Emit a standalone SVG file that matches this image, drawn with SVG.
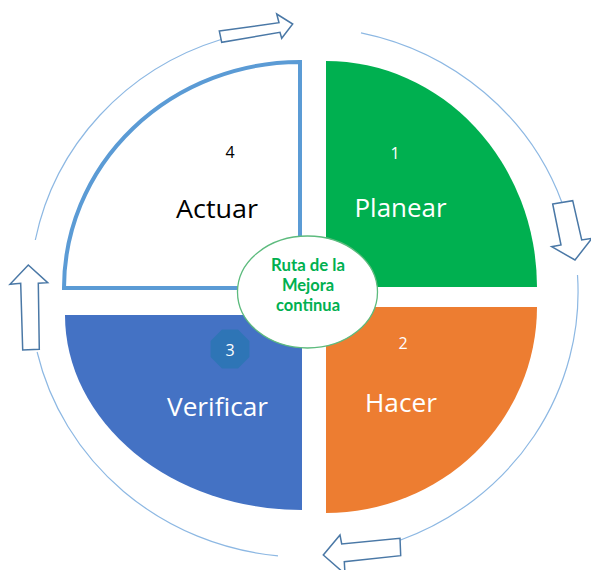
<svg xmlns="http://www.w3.org/2000/svg" width="591" height="570" viewBox="0 0 591 570">
  <style>
    .ring { fill: none; stroke: #8DB8E3; stroke-width: 1.2; }
    .barrow { fill: #FFFFFF; stroke: #4A78A6; stroke-width: 1.5; stroke-linejoin: miter; }
    .big { font-family: "Open Sans", "Noto Sans", sans-serif; font-size: 25px; text-anchor: middle; }
    .num { font-family: "Open Sans", "Noto Sans", sans-serif; font-size: 16px; text-anchor: middle; }
    .light { fill: #FFFFFF; }
    .dark { fill: #000000; }
    .hub { font-family: Lato, "Liberation Sans", sans-serif; font-size: 16.5px; font-weight: bold; fill: #00B050; text-anchor: middle; }
  </style>

  <rect x="0" y="0" width="591" height="570" fill="#FFFFFF"/>

  <!-- outer cycle: ring segments and block arrows -->
  <g id="connectors">
    <path class="ring" d="M35.3,240 A274,265 0 0 1 221,39.5"/>
    <path class="ring" d="M361,32.8 A274,265 0 0 1 562,202.7"/>
    <path class="ring" d="M577.5,275 A274,265 0 0 1 400,540.2"/>
    <path class="ring" d="M278,555.8 A274,265 0 0 1 37.1,352"/>

    <polygon class="barrow" points="219.3,31 279,22.7 276.7,14 292.7,24 281.7,38.3 280,32.3 221.7,42.3"/>
    <polygon class="barrow" points="552.7,204 572.7,200.7 581.7,240 592,238.3 575,260 551.7,246.7 561,245"/>
    <polygon class="barrow" points="400,538.3 400.7,555.7 344.3,561.7 345,574 323.3,555 340,535 341.7,544"/>
    <polygon class="barrow" points="28.3,265 47.7,282.7 38.3,283.3 39.3,349.3 22.7,350 20.7,283.3 10,284.3"/>
  </g>

  <!-- step 4: Actuar -->
  <g id="actuar">
    <path d="M300,62 L300,288 L64,288 A236,226 0 0 1 300,62 Z" fill="#FFFFFF" stroke="#5B9BD5" stroke-width="4"/>
    <text class="num dark" x="230" y="158">4</text>
    <text class="big dark" x="217" y="218" textLength="82" lengthAdjust="spacingAndGlyphs">Actuar</text>
  </g>

  <!-- step 1: Planear -->
  <g id="planear">
    <path d="M326,61 A211,226 0 0 1 537,287 L326,287 Z" fill="#00B050"/>
    <text class="num light" x="395" y="159">1</text>
    <text class="big light" x="400.5" y="217" textLength="92" lengthAdjust="spacingAndGlyphs">Planear</text>
  </g>

  <!-- step 2: Hacer -->
  <g id="hacer">
    <path d="M537,307 A211,206 0 0 1 326,513 L326,307 Z" fill="#ED7D31"/>
    <text class="num light" x="403" y="349">2</text>
    <text class="big light" x="401" y="412" textLength="72" lengthAdjust="spacingAndGlyphs">Hacer</text>
  </g>

  <!-- step 3: Verificar -->
  <g id="verificar">
    <path d="M302,510 A237,195 0 0 1 65,315 L302,315 Z" fill="#4472C4"/>
    <polygon points="238,329.6 249.4,341 249.4,357 238,368.4 222,368.4 210.6,357 210.6,341 222,329.6" fill="#2E75B6"/>
    <text class="num light" x="230" y="356">3</text>
    <text class="big light" x="217.5" y="415.5" textLength="101" lengthAdjust="spacingAndGlyphs">Verificar</text>
  </g>

  <!-- hub -->
  <g id="ruta">
    <ellipse cx="307.5" cy="292" rx="70" ry="56" fill="#FFFFFF" stroke="#5DBB7E" stroke-width="1.3"/>
    <text class="hub" x="308" y="270.5" textLength="74" lengthAdjust="spacingAndGlyphs">Ruta de la</text>
    <text class="hub" x="308" y="291">Mejora</text>
    <text class="hub" x="308" y="311">continua</text>
  </g>
</svg>
